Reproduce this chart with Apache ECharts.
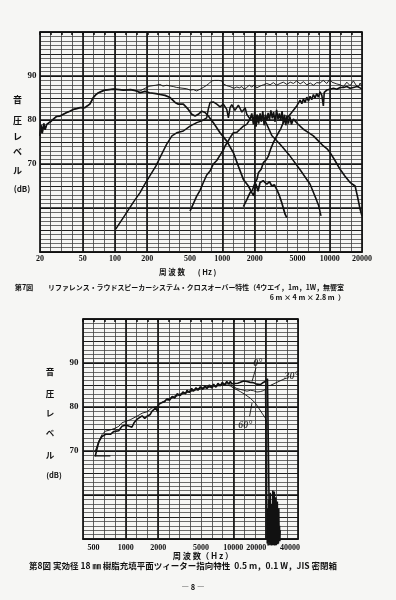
<!DOCTYPE html>
<html><head><meta charset="utf-8">
<script src="https://cdn.jsdelivr.net/npm/echarts@6/dist/echarts.min.js"></script>
<style>html,body{margin:0;padding:0;background:#f6f6f4}#c{width:396px;height:600px}</style>
</head><body><div id="c"></div>
<script>
// ---------- data (Hz / dB) ----------
const TOP_X_LABELS = [20,50,100,200,500,1000,2000,5000,10000,20000];
const BOT_X_LABELS = [500,1000,2000,5000,10000,20000,40000];
const Y_LABELS = [70,80,90];
const TOP_HEAVY_HZ = [50,100,200,1000,2000,10000];
const BOT_HEAVY_HZ = [1000,2000,10000,20000];

// Fig.7 : woofer
const wooferHz = [20,20.5,21,21.7,22.3,23.1,24,25,26.6,28.5,30.7,33,35.5,38,40.9,44,47.3,52.6,55,58.3,62.7,66,70,75,80.6,96.6,110,119.7,140,159,171,190,210,240,262.6,292,326,363,389,433,482,519,557,597,643,690,740,824,952,1099,1266,1410,1570,1748,1880,1960,2050,2150,2246,2400,2594,2750,2886,3050,3214,3400,3578,3840,3983];
const wooferDb = [76.4,78.8,77,79.2,77.8,79,79.3,79.6,80.2,80.8,80.9,81.3,81.7,82.0,82.4,82.6,82.8,82.8,83.2,83.6,85.1,85.7,86.2,86.5,86.8,87.0,86.9,86.8,86.9,86.6,86.2,86.5,86.2,86.0,85.8,85.6,85.1,84.0,83.6,83.6,82.4,81.3,80.9,81.3,82.0,81.7,80.9,79.4,77.1,75.2,72.6,69.5,66.5,65.0,63.5,62.8,65.5,63.8,65.8,66.2,65.4,66.0,65.0,65.3,64.2,62.8,61.2,58.6,57.8];
// Fig.7 : midrange
const midHz = [101.5,128.6,150,171,190,211,240,263,303,339,375,433,500,537,577,643,715,740,768,824,887,952,1022,1099,1138,1180,1224,1266,1310,1362,1410,1462,1520,1570,1630,1688,1750,1812,1880,1946,2030,2100,2246,2400,2594,2900,3450,4276,5300,6568,7400,7900,8300];
const midDb = [55.2,59.0,61.5,63.5,65.5,67.3,69.5,71.5,74.5,76.4,77.1,77.5,78.6,79.0,79.4,79.8,80.5,82.5,84.0,84.1,83.6,83.0,83.6,82.4,80.5,82.8,83.5,83.2,82.2,82.4,83.4,83.0,81.8,82.0,82.8,81.3,81.0,80.2,81.0,80.5,79.2,81.2,80.0,80.8,79.0,76.4,74.5,71.8,68.7,65.4,62.3,60.5,58.2];
// Fig.7 : tweeter
const tweeterHz = [500,577,620,665,715,768,824,887,952,1022,1060,1120,1180,1266,1362,1462,1570,1688,1812,1880,1946,2000,2060,2120,2180,2246,2310,2380,2450,2520,2594,2670,2750,2830,2920,3000,3100,3200,3300,3400,3500,3600,3700,3800,3900,4000,4120,4250,4400,4590,5000,5688,6300,7048,7800,8730,9400,10086,11200,12500,13900,15496,16300,17252,18200,19200,20000];
const tweeterDb = [59.3,62.7,64.0,65.8,67.5,68.4,70.0,70.8,72.0,73.2,74.1,75.0,76.0,77.1,77.2,77.9,78.6,79.0,80.2,81.5,79.0,81.8,78.5,81.0,79.2,81.5,79.6,82.0,78.8,81.2,79.8,81.6,80.0,82.2,80.4,81.8,79.6,82.3,80.2,81.5,79.8,82.0,79.2,81.2,78.8,81.0,79.2,80.8,79.0,80.2,79.2,77.9,77.2,76.4,75.3,74.1,73.5,72.6,70.8,68.8,67.2,65.8,65.4,65.0,62.5,59.7,58.2];
// Fig.7 : super tweeter
const superHz = [1570,1700,1812,1900,2017,2100,2166,2300,2410,2550,2684,2830,2989,3150,3327,3500,3702,3900,4122,4350,4590,4936,5000,5300,5500,5688,5900,6118,6350,6568,6800,7048,7300,7574,7850,8138,8450,8730,8900,9200,9396,9800,10086,10828,11650,12500,13450,14436,15496,16632,18000,19200,20000];
const superDb = [60.3,62.0,63.5,64.0,65.8,66.5,68.0,68.8,70.3,70.9,71.8,73.5,74.9,76.0,77.1,78.0,79.5,80.0,80.8,81.5,82.2,83.2,83.5,84.5,83.7,84.8,84.0,85.2,84.3,85.4,84.6,85.8,85.0,86.0,85.2,86.4,85.6,83.2,86.3,86.0,86.8,86.4,87.0,87.2,87.0,87.4,87.4,87.6,87.2,87.4,87.6,87.3,87.0];
// Fig.7 : total system (thin)
const totalHz = [20,20.5,21,21.7,22.3,23.1,24,25,26.6,28.5,30.7,33,35.5,38,40.9,44,47.3,52.6,55,58.3,62.7,66,70,75,80.6,96.6,110,119.7,140,159,171,190,211,240,262,280,303,349,375,403,466,500,537,577,620,665,715,760,797,850,887,920,960,987,1020,1060,1100,1138,1180,1224,1280,1362,1440,1516,1600,1688,1780,1880,1990,2092,2246,2410,2594,2784,2989,3200,3450,3700,3983,4300,4590,4935,5300,5700,6118,6600,7048,7574,8138,8700,9396,10000,10500,10828,11650,12500,13450,14436,15496,16632,17500,18500,19200,20000];
const totalDb = [76.4,78.8,77,79.2,77.8,79,79.3,79.6,80.2,80.8,80.9,81.3,81.7,82.0,82.4,82.6,82.8,82.8,83.2,83.6,85.1,85.7,86.2,86.5,86.8,87.0,86.9,86.8,86.9,86.6,86.6,87.2,87.7,87.9,88.1,87.7,87.9,87.6,87.4,87.3,87.1,86.8,86.9,86.6,87.0,87.4,87.9,88.4,88.9,89.0,89.3,89.0,88.6,88.9,88.2,88.6,87.8,88.1,87.6,87.8,87.2,87.5,87.3,87.6,87.0,87.4,87.9,87.5,88.0,87.3,87.7,88.0,88.3,88.0,88.5,87.9,88.3,88.6,88.1,88.6,88.3,88.9,88.2,88.7,88.0,88.4,87.9,88.5,88.4,89.0,88.3,89.2,88.6,89.0,88.2,88.0,87.6,88.6,87.8,88.9,88.0,87.5,88.4,87.6];

// Fig.8 : 0 deg
const deg0Hz = [520,540,560,600,650,720,770,860,920,1000,1080,1140,1200,1270,1340,1420,1500,1575,1690,1750,1815,1900,1952,1990,2020,2100,2173,2300,2418,2550,2700,2850,3000,3215,3400,3600,3711,3900,4100,4275,4500,4700,4935,5200,5450,5696,6000,6300,6561,6900,7200,7573,7900,8300,8700,9100,9382,9700,10072,11000,11623,12500,13416,14400,15455,16500,17841,18800,19860,20800,21500,21770,21780];
const deg0Db = [68.8,70.5,72.0,73.3,73.8,73.8,74.4,74.6,75.6,75.9,75.6,75.4,76.5,77.2,77.6,78.0,77.4,77.9,78.3,79.0,79.2,79.8,80.1,78.8,80.6,80.2,81.0,81.2,81.9,81.5,82.4,82.0,83.0,82.6,83.4,83.0,83.8,83.3,84.2,83.6,84.4,83.8,84.6,84.0,84.8,84.2,85.0,84.3,85.2,84.5,85.4,84.8,85.6,85.0,85.8,85.2,85.8,85.3,85.6,85.4,85.6,85.9,85.8,85.6,85.5,85.2,85.1,85.5,85.8,86.4,86.8,86.8,49];
// Fig.8 : 30 deg
const deg30Hz = [520,560,600,645,720,800,860,920,990,1100,1270,1420,1575,1750,1950,2100,2418,2784,3215,3711,4275,4935,5696,6561,7573,8700,9382,10072,10800,11623,12500,13416,14400,15455,16600,17841,19000,19860,20500,20589,20600];
const deg30Db = [70.0,72.2,73.7,74.5,74.8,75.2,75.6,76.4,76.7,77.1,77.9,78.6,78.9,79.8,80.1,80.9,81.7,82.4,83.0,83.4,83.9,84.3,84.6,84.8,85.1,85.3,85.2,84.6,84.2,84.0,83.8,83.6,83.8,83.7,83.4,83.5,83.7,84.0,84.4,84.4,49];
// Fig.8 : 60 deg
const deg60Hz = [2418,2784,3215,3711,4275,4935,5696,6561,7573,8700,9382,10072,11623,12937,14400,16028,17200,18504,19860,20589,20600];
const deg60Db = [81.5,82.2,82.8,83.3,83.7,84.1,84.4,84.6,84.9,85.0,84.8,84.3,83.5,82.8,82.0,80.9,79.8,78.6,77.5,76.4,50];
// Fig.8 : noise above cut-off
const noiseHz = [20700,20900,21100,21300,21500,21700,21900,22100,22300,22500,22700,22900,23100,23300,23500,23700,23900,24100,24300,24500,24700,24900,25100,25300,25500,25700,25900,26100,26300,26500,26700,26900,27100,27300];
const noiseDb = [49,57,48.5,59,49.5,56,48.6,60.5,49,55,48.5,58,50,61,48.6,57.5,49.2,60.8,48.5,55.5,49,59.5,48.6,56,49.4,58.5,48.8,54,49,57,50,53,49.5,52];
// Fig.8 : start marker line
const startHz = [511,719];
const startDb = [68.9,68.9];
// Fig.8 : angle annotations (leader ends, label anchor)
const lead0 = [[14930,85.8],[16270,88.9]];
const lead30 = [[22100,84.9],[31130,86.6]];
const lead60 = [[14930,80.9],[14190,77.9]];
const angleLabels = [["0°",16900,89.9],["30°",34800,87.0],["60°",12900,75.9]];

// ---------- build ----------
const L = Math.log10;
const pts = (hz, db) => hz.map((f, i) => [L(f), db[i]]);
const INK = '#111';
const numFont = {fontFamily:'Liberation Serif', fontWeight:'bold', color:INK};
const jp = '"Noto Sans CJK JP", sans-serif';

function xAxes(grid, lo, hi, labels, shift) {
  return [
    {gridIndex:grid, type:'value', position:'top', min:L(lo), max:L(hi), interval:0.1,
     axisLine:{show:true, lineStyle:{color:INK, width:1.7}},
     axisTick:{show:true, inside:true, length:3, lineStyle:{color:INK, width:1.5}},
     axisLabel:{show:false},
     splitLine:{show:true, lineStyle:{color:'#3c3c3c', width:0.8}}},
    {gridIndex:grid, type:'value', position:'bottom', min:L(lo), max:L(hi),
     axisLine:{show:true, lineStyle:{color:INK, width:1.7}},
     axisTick:{show:false}, splitLine:{show:false},
     axisLabel:Object.assign({show:true, fontSize:8, margin:grid===0?3:5,
       customValues:labels.map(L),
       formatter:v=>{const n=Math.round(Math.pow(10,v)); return shift[n]?('{'+shift[n]+'|'+n+'}'):String(n);},
       rich:{a:{padding:[0,19,0,0], fontSize:8, fontFamily:'Liberation Serif', fontWeight:'bold', color:INK},
             b:{padding:[0,16,0,0], fontSize:8, fontFamily:'Liberation Serif', fontWeight:'bold', color:INK}}}, numFont)}
  ];
}
function yAxes(grid, margin) {
  return [
    {gridIndex:grid, type:'value', position:'left', min:50, max:100, interval:1,
     axisLine:{show:false}, axisTick:{show:false}, axisLabel:{show:false},
     splitLine:{show:true, lineStyle:{color:'#3c3c3c', width:0.75}}},
    {gridIndex:grid, type:'value', position:'right', min:50, max:100, interval:5,
     axisLine:{show:true, lineStyle:{color:INK, width:1.7}}, axisTick:{show:false}, axisLabel:{show:false},
     splitLine:{show:true, lineStyle:{color:'#1e1e1e', width:1.1}}},
    {gridIndex:grid, type:'value', position:'left', min:50, max:100, interval:10,
     axisLine:{show:true, lineStyle:{color:INK, width:1.7}}, axisTick:{show:false},
     axisLabel:Object.assign({show:true, fontSize:9, margin:margin,
       formatter:v=>Y_LABELS.includes(v)?String(v):''}, numFont),
     splitLine:{show:true, lineStyle:{color:INK, width:1.7}}}
  ];
}
function curve(data, xi, yi, w, extra) {
  return Object.assign({type:'line', data:data, xAxisIndex:xi, yAxisIndex:yi, symbol:'none',
    lineStyle:{color:INK, width:w}, silent:true, z:3}, extra||{});
}
function heavy(list, xi, yi) {
  return {type:'line', data:[], xAxisIndex:xi, yAxisIndex:yi, silent:true, z:2,
    markLine:{silent:true, symbol:['none','none'], label:{show:false}, animation:false,
      lineStyle:{color:INK, width:1.6, type:'solid'},
      data:list.map(f=>({xAxis:L(f)}))}};
}

const series = [
  heavy(TOP_HEAVY_HZ, 1, 2),
  curve(pts(totalHz,totalDb), 1, 2, 0.9),
  curve(pts(wooferHz,wooferDb), 1, 2, 1.7),
  curve(pts(midHz,midDb), 1, 2, 1.5),
  curve(pts(tweeterHz,tweeterDb), 1, 2, 1.6),
  curve(pts(superHz,superDb), 1, 2, 1.6),
  heavy(BOT_HEAVY_HZ, 3, 5),
  curve(pts(deg30Hz,deg30Db), 3, 5, 0.9),
  curve(pts(deg60Hz,deg60Db), 3, 5, 0.9),
  curve(pts(deg0Hz,deg0Db), 3, 5, 1.6),
  curve(pts(noiseHz,noiseDb), 3, 5, 1.6, {clip:false}),
  curve(pts(startHz,startDb), 3, 5, 1.1),
  curve(lead0.map(p=>[L(p[0]),p[1]]), 3, 5, 0.9),
  curve(lead30.map(p=>[L(p[0]),p[1]]), 3, 5, 0.9),
  curve(lead60.map(p=>[L(p[0]),p[1]]), 3, 5, 0.9),
  {type:'scatter', xAxisIndex:3, yAxisIndex:5, symbolSize:0, silent:true, z:4,
   data:angleLabels.map(a=>({value:[L(a[1]),a[2]], name:a[0]})),
   label:{show:true, position:'inside', formatter:p=>p.name, fontFamily:'Liberation Serif',
     fontStyle:'italic', fontWeight:'bold', fontSize:10, color:INK}}
];

function t(text, x, y, size, extra) {
  return {type:'text', x:x, y:y, silent:true, z:10,
    style:Object.assign({text:text, fill:INK, font:'bold '+size+'px '+jp, textAlign:'center', textVerticalAlign:'middle', verticalAlign:'middle'}, extra||{})};
}
const graphics = [
  t('音',17.5,100,9), t('圧',17.5,121,9), t('レ',17.5,137,9), t('ベ',17.5,152,9), t('ル',17.5,171,9),
  t('(dB)',22,189,8),
  t('周 波 数',172,272,7.5), t('( Hz )',207,272,7.5),
  t('第7図',24,287,7.2),
  t('リファレンス・ラウドスピーカーシステム・クロスオーバー特性（4ウエイ，1m，1W，無響室',48,287,6.95,{textAlign:'left'}),
  t('6 m × 4 m × 2.8 m  ）',345,297,7.1,{textAlign:'right'}),
  t('音',50,372,8.5), t('圧',50,393.5,8.5), t('レ',50,413,8.5), t('ベ',50,433,8.5), t('ル',50,455,8.5),
  t('(dB)',54,475,7.5),
  t('周 波 数（ H z ）',203,555.5,8.2),
  t('第8図 実効径 18 ㎜ 樹脂充填平面ツィーター指向特性  0.5 m，0.1 W，JIS 密閉箱',183,566,8.5),
  t('― 8 ―',193,587,7.5)
];

const chart = echarts.init(document.getElementById('c'), null, {renderer:'canvas'});
chart.setOption({
  animation:false,
  backgroundColor:'#f6f6f4',
  grid:[{left:40, top:32, width:322, height:220}, {left:83, top:319, width:215, height:220}],
  xAxis:[].concat(xAxes(0,20,20000,TOP_X_LABELS,{}), xAxes(1,400,40000,BOT_X_LABELS,{20000:'a',40000:'b'})),
  yAxis:[].concat(yAxes(0,3.5), yAxes(1,4.5)),
  series:series,
  graphic:graphics
});
</script></body></html>
